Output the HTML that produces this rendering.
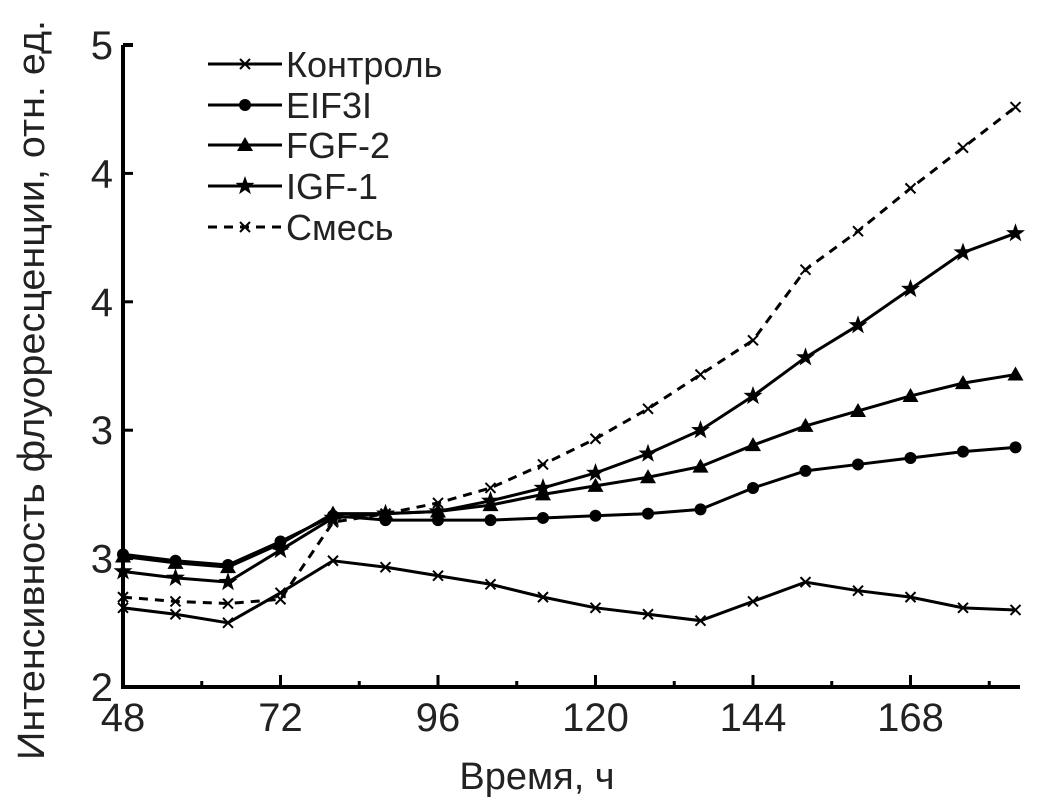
<!DOCTYPE html>
<html><head><meta charset="utf-8"><style>
html,body{margin:0;padding:0;background:#fff;}
svg{display:block;font-family:"Liberation Sans",sans-serif;}
</style></head><body>
<svg id="chart" width="1041" height="807"></svg>
<script>
const hours = [48,56,64,72,80,88,96,104,112,120,128,136,144,152,160,168,176,184];
const kontrol = [2.37,2.34,2.30,2.44,2.59,2.56,2.52,2.48,2.42,2.37,2.34,2.31,2.40,2.49,2.45,2.42,2.37,2.36];
const eif3i = [2.62,2.59,2.57,2.68,2.80,2.78,2.78,2.78,2.79,2.80,2.81,2.83,2.93,3.01,3.04,3.07,3.10,3.12];
const fgf2 = [2.61,2.58,2.56,2.67,2.81,2.81,2.82,2.85,2.90,2.94,2.98,3.03,3.13,3.22,3.29,3.36,3.42,3.46];
const igf1 = [2.54,2.51,2.49,2.64,2.79,2.81,2.82,2.87,2.93,3.00,3.09,3.20,3.36,3.54,3.69,3.86,4.03,4.12];
const smes = [2.42,2.40,2.39,2.41,2.77,2.81,2.86,2.93,3.04,3.16,3.30,3.46,3.62,3.95,4.13,4.33,4.52,4.71];
const xTicks = [48,72,96,120,144,168];
const xMinor = [60,84,108,132,156,180];
const yTickVals = [2,2.6,3.2,3.8,4.4,5];
const yTickLabels = ["2","3","3","4","4","5"];
const seriesNames = ["Контроль","EIF3I","FGF-2","IGF-1","Смесь"];

const NS="http://www.w3.org/2000/svg";
const svg=document.getElementById('chart');
const X0=123,Y0=687,XR=1020,YT=45;
const xs=h=>X0+(h-48)*(157.5/24);
const ys=v=>Y0-(v-2)*(Y0-YT)/3;
function mk(tag,attrs,parent){const e=document.createElementNS(NS,tag);for(const k in attrs)e.setAttribute(k,attrs[k]);(parent||svg).appendChild(e);return e;}

let ax=mk('path',{d:`M${X0},${YT} L${X0},${Y0} L${XR},${Y0}`,fill:'none',stroke:'#000','stroke-width':4});


mk('line',{x1:X0,y1:YT,x2:X0+10,y2:YT,stroke:'#000','stroke-width':4});
yTickVals.forEach((v,i)=>{
  if(i>0) mk('line',{x1:X0,y1:ys(v),x2:X0+10,y2:ys(v),stroke:'#000','stroke-width':3});
  const t=mk('text',{x:X0-10,y:ys(v)+14,'text-anchor':'end','font-size':40,fill:'#222'});
  t.textContent=yTickLabels[i];
  
  
});
xTicks.forEach(h=>{
  mk('line',{x1:xs(h),y1:Y0,x2:xs(h),y2:Y0-12,stroke:'#000','stroke-width':3});
  const t=mk('text',{x:xs(h),y:Y0+44,'text-anchor':'middle','font-size':40,fill:'#222'});
  t.textContent=h;
  
  
});
xMinor.forEach(h=>mk('line',{x1:xs(h),y1:Y0,x2:xs(h),y2:Y0-6,stroke:'#000','stroke-width':3}));

let xt=mk('text',{x:537,y:789,'text-anchor':'middle','font-size':38,fill:'#222'});
xt.textContent='Время, ч';


let yt=mk('text',{x:0,y:0,'text-anchor':'middle','font-size':38,fill:'#222',textLength:740,lengthAdjust:'spacingAndGlyphs',transform:'translate(44,390) rotate(-90)'});
yt.textContent='Интенсивность флуоресценции, отн. ед.';



function marker(type,x,y,g){
  if(type==='x'){mk('path',{d:`M${x-5},${y-5}L${x+5},${y+5}M${x-5},${y+5}L${x+5},${y-5}`,stroke:'#000','stroke-width':2},g);}
  else if(type==='o'){mk('circle',{cx:x,cy:y,r:6,fill:'#000'},g);}
  else if(type==='t'){mk('path',{d:`M${x},${y-8}L${x+8},${y+6}L${x-8},${y+6}Z`,fill:'#000'},g);}
  else if(type==='s'){let p='';for(let i=0;i<10;i++){const r=i%2?4:10,a=-Math.PI/2+i*Math.PI/5;p+=(i?'L':'M')+(x+r*Math.cos(a)).toFixed(1)+','+(y+r*Math.sin(a)).toFixed(1);}mk('path',{d:p+'Z',fill:'#000'},g);}
}
const all=[[kontrol,'x',false],[eif3i,'o',false],[fgf2,'t',false],[igf1,'s',false],[smes,'x',true]];
const slugs=['kontrol','eif3i','fgf-2','igf-1','smes'];
all.forEach(([data,m,dash],si)=>{
  const g=mk('g',{});
  
  
  const d=data.map((v,i)=>(i?'L':'M')+xs(hours[i])+','+ys(v)).join('');
  const a={d:d,fill:'none',stroke:'#000','stroke-width':3};
  if(dash)a['stroke-dasharray']='9,7';
  mk('path',a,g);
  data.forEach((v,i)=>marker(m,xs(hours[i]),ys(v),g));
  const ly=[64,105,145,186,227][si];
  const lg=mk('g',{});
  
  
  const la={x1:208,y1:ly,x2:282,y2:ly,stroke:'#000','stroke-width':3};
  if(dash)la['stroke-dasharray']='9,7';
  mk('line',la,lg);
  marker(m,245,ly,lg);
  const t=mk('text',{x:286,y:ly+13,'font-size':36,fill:'#222'},lg);
  t.textContent=seriesNames[si];
});
</script>
</body></html>
